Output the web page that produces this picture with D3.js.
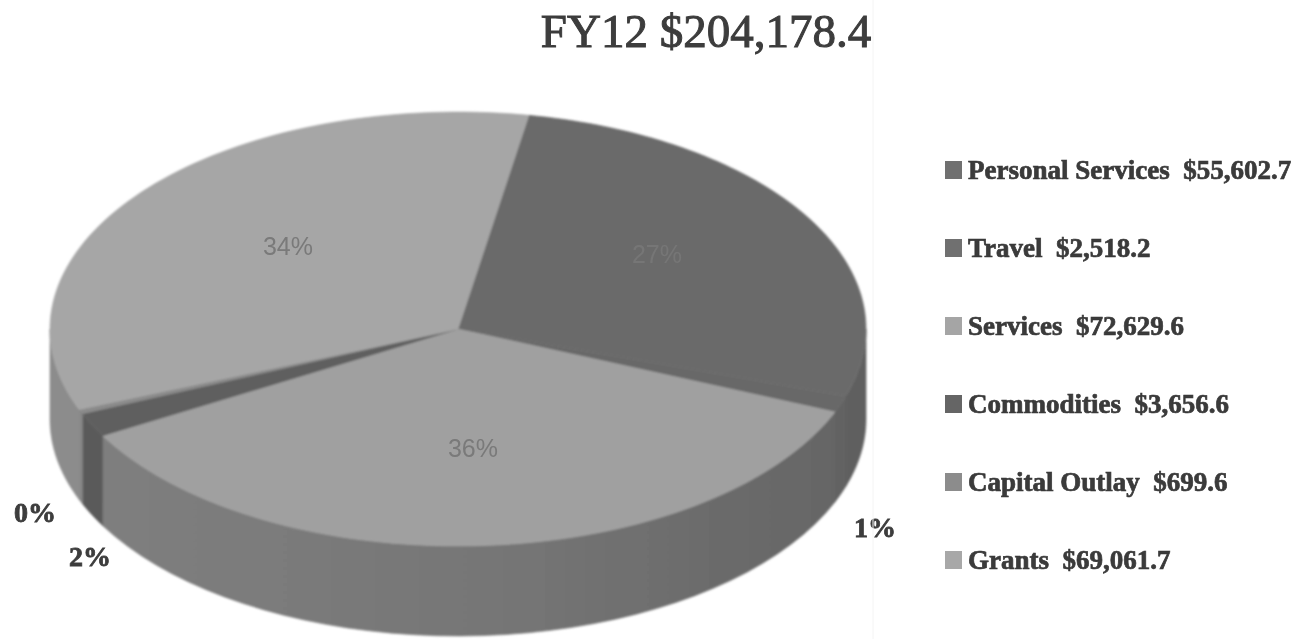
<!DOCTYPE html>
<html><head><meta charset="utf-8">
<script src="https://cdnjs.cloudflare.com/ajax/libs/d3/7.8.5/d3.min.js"></script>
<style>html,body{margin:0;background:#fff}svg{display:block}</style>
</head><body><div id="c"></div>
<script>
const categories=["Personal Services","Travel","Services","Commodities","Capital Outlay","Grants"];
const amounts=[55602.7,2518.2,72629.6,3656.6,699.6,69061.7];
const amountLabels=["$55,602.7","$2,518.2","$72,629.6","$3,656.6","$699.6","$69,061.7"];
const pctLabels=["27%","1%","36%","2%","0%","34%"];
const topColors=["#6a6a6a","#686868","#a0a0a0","#5f5f5f","#8a8a8a","#a6a6a6"];
const sideColors=["#5e5e5e","#626262","url(#wall)","#5a5a5a","#858585","#8c8c8c"];
const swatchColors=["#6f6f6f","#707070","#a5a5a5","#656565","#8c8c8c","#a8a8a8"];
const title="FY12 $204,178.4";
const W=1308,H=639,cx=458,cy=329,rx=408,ry=217,depth=90;
const svg=d3.select("#c").append("svg").attr("width",W).attr("height",H);
const defs=svg.append("defs");
defs.append("filter").attr("id","soft").append("feGaussianBlur").attr("stdDeviation",0.9);
defs.append("filter").attr("id","txt").append("feGaussianBlur").attr("stdDeviation",0.7);
const wall=defs.append("linearGradient").attr("id","wall").attr("gradientUnits","userSpaceOnUse")
  .attr("x1",cx-rx).attr("x2",cx+rx).attr("y1",0).attr("y2",0);
wall.append("stop").attr("offset","0%").attr("stop-color","#808080");
wall.append("stop").attr("offset","55%").attr("stop-color","#767676");
wall.append("stop").attr("offset","100%").attr("stop-color","#646464");
const pie=d3.pie().sort(null).startAngle(10*Math.PI/180).endAngle(370*Math.PI/180);
const arcs=pie(amounts);
const px=d3.scaleLinear().domain([-1,1]).range([cx-rx,cx+rx]);
const py=d3.scaleLinear().domain([-1,1]).range([cy-ry,cy+ry]);
const pt=(a,dz=0)=>[px(Math.sin(a)),py(-Math.cos(a))+dz];
const g=svg.append("g").attr("filter","url(#soft)");
arcs.forEach((d,i)=>{
  const tau=2*Math.PI;
  [[d.startAngle,d.endAngle],[d.startAngle-tau,d.endAngle-tau]].forEach(([s,e])=>{
    const a0=Math.max(s,Math.PI/2),a1=Math.min(e,3*Math.PI/2);
    if(a1<=a0)return;
    const as=d3.range(0,41).map(k=>a0+(a1-a0)*k/40);
    const pts=as.map(a=>pt(a)).concat(as.slice().reverse().map(a=>pt(a,depth)));
    g.append("path").attr("d",d3.line()(pts)+"Z").attr("fill",sideColors[i]).attr("stroke",sideColors[i]).attr("stroke-width",0.6);
  });
});
arcs.forEach((d,i)=>{
  const as=d3.range(0,81).map(k=>d.startAngle+(d.endAngle-d.startAngle)*k/80);
  const pts=[[px(0),py(0)]].concat(as.map(a=>pt(a)));
  g.append("path").attr("d",d3.line()(pts)+"Z").attr("fill",topColors[i]).attr("stroke",topColors[i]).attr("stroke-width",0.6);
});
const t=svg.append("g").attr("filter","url(#txt)");
t.append("text").attr("x",706).attr("y",47).attr("text-anchor","middle").style("font-family","Liberation Serif").style("font-size","47px").attr("fill","#3c3c3c").attr("stroke","#3c3c3c").attr("stroke-width",1).text(title);
const labelPos=[[657,263],[875,537],[473,457],[90,566],[35,522],[288,255]];
pctLabels.forEach((s,i)=>{
  const outside=[1,3,4].includes(i);
  const sel=t.append("text").attr("x",labelPos[i][0]).attr("y",labelPos[i][1]).attr("text-anchor","middle")
   .style("font-size",outside?"28px":"25px")
   .style("font-family",outside?"Liberation Serif":"Liberation Sans")
   .style("font-weight",outside?"bold":"normal")
   .attr("fill",outside?"#3c3c3c":(i===0?"#767676":"#7a7a7a")).text(s);
  if(outside) sel.attr("stroke","#3c3c3c").attr("stroke-width",0.8);
});
const ly=d3.scaleLinear().domain([0,5]).range([170,560]);
categories.forEach((c,i)=>{
  const y=ly(i);
  t.append("rect").attr("x",945).attr("y",y-9).attr("width",17).attr("height",18).attr("fill",swatchColors[i]);
  t.append("text").attr("x",968).attr("y",y+9).style("font-family","Liberation Serif").style("font-size","27px").style("font-weight","bold").style("white-space","pre").attr("fill","#3a3a3a").attr("stroke","#3a3a3a").attr("stroke-width",0.7).text(c+"  "+amountLabels[i]);
});
svg.append("line").attr("x1",873).attr("x2",873).attr("y1",0).attr("y2",H).attr("stroke","#f4f4f4");
</script></body></html>
